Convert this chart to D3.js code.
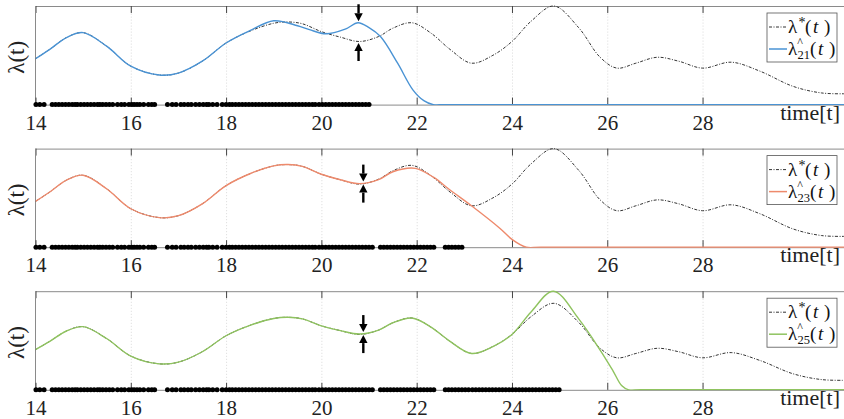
<!DOCTYPE html>
<html><head><meta charset="utf-8">
<script src="https://cdn.jsdelivr.net/npm/d3@7"></script>
<style>body{margin:0;background:#fff} svg{display:block}</style>
</head><body><svg id="c" width="844" height="419"></svg>
<script>
// ---------- data ----------
const xTicks = [14,16,18,20,22,24,26,28];
const xLabel = "time[t]";
const yLabel = "λ(t)";

// true intensity λ*(t)
const tStar   = [14.0,14.3,14.65,15.0,15.5,16.0,16.6,17.0,17.5,18.0,18.5,19.0,19.3,19.6,20.0,20.4,20.8,21.2,21.5,21.9,22.3,22.7,23.15,23.6,24.0,24.4,24.88,25.4,25.85,26.2,26.6,27.05,27.5,28.0,28.6,29.2,29.9,30.5,31.0];
const lamStar = [0.465,0.56,0.68,0.73,0.59,0.39,0.30,0.32,0.44,0.625,0.745,0.825,0.838,0.82,0.74,0.684,0.64,0.69,0.775,0.83,0.725,0.56,0.42,0.50,0.64,0.845,1.0,0.78,0.48,0.37,0.42,0.48,0.44,0.37,0.43,0.34,0.185,0.118,0.11];

// estimate after 21 events
const t21   = [14.0,14.3,14.65,15.0,15.5,16.0,16.6,17.0,17.5,18.0,18.5,19.0,19.5,19.75,20.1,20.5,20.77,21.0,21.24,21.6,21.92,22.15,22.35,22.6,31.0];
const lam21 = [0.465,0.56,0.68,0.73,0.59,0.39,0.30,0.32,0.44,0.625,0.75,0.85,0.80,0.76,0.718,0.765,0.83,0.78,0.69,0.42,0.15,0.04,0.0,0.0,0.0];

// estimate after 23 events
const t23   = [14.0,14.3,14.65,15.0,15.5,16.0,16.6,17.0,17.5,18.0,18.5,19.0,19.3,19.6,20.0,20.4,20.8,21.2,21.5,21.97,22.35,22.7,23.15,23.75,24.0,24.3,24.6,31.0];
const lam23 = [0.465,0.56,0.68,0.73,0.59,0.39,0.30,0.32,0.44,0.625,0.745,0.825,0.838,0.82,0.74,0.684,0.645,0.685,0.765,0.80,0.71,0.58,0.42,0.19,0.08,0.0,0.0,0.0];

// estimate after 25 events
const t25   = [14.0,14.3,14.65,15.0,15.5,16.0,16.6,17.0,17.5,18.0,18.5,19.0,19.3,19.6,20.0,20.4,20.8,21.2,21.5,21.9,22.3,22.7,23.15,23.6,24.0,24.4,24.87,25.4,25.85,26.12,26.3,26.45,26.7,31.0];
const lam25 = [0.465,0.56,0.68,0.73,0.59,0.39,0.30,0.32,0.44,0.625,0.745,0.825,0.838,0.82,0.74,0.684,0.645,0.69,0.775,0.83,0.725,0.56,0.42,0.50,0.64,0.90,1.14,0.82,0.46,0.22,0.05,0.0,0.0,0.0];

// observed event times
const events = [14.01,14.09,14.18,14.35,14.42,14.49,14.56,14.63,14.70,14.77,14.83,14.88,14.95,15.02,15.09,15.16,15.23,15.30,15.35,
  15.41,15.48,15.55,15.62,15.72,15.80,15.87,15.96,16.02,16.07,16.13,16.19,16.27,16.37,16.44,16.50,16.77,16.87,16.95,17.05,
  17.12,17.20,17.27,17.36,17.44,17.52,17.59,17.64,17.72,17.81,17.92,18.00,18.07,18.13,18.20,18.27,18.34,18.41,18.48,18.55,
  18.62,18.69,18.76,18.83,18.90,18.97,19.04,19.11,19.18,19.25,19.32,19.39,19.46,19.53,19.60,19.67,19.74,19.81,19.87,
  19.95,20.02,20.09,20.16,20.23,20.30,20.37,20.44,20.51,20.58,20.65,20.72,20.79,20.86,20.93,21.00,
  21.07,21.24,21.31,21.38,21.45,21.52,21.59,21.66,21.73,21.80,21.87,21.94,22.01,22.08,22.15,22.22,22.29,22.36,
  22.60,22.67,22.74,22.81,22.88,22.95,23.02,23.09,23.17,23.24,23.31,23.38,23.45,23.52,23.59,23.66,23.73,23.80,23.87,23.94,
  24.01,24.08,24.15,24.22,24.29,24.36,24.43,24.50,24.57,24.64,24.71,24.78,24.85,24.92,24.99];

const hatT    = [t21, t23, t25];
const hatLam  = [lam21, lam23, lam25];
const hatSub  = ["21", "23", "25"];
const hatColor= ["#4a93d4", "#ee8a6c", "#8fc35f"];
const evEnd   = [21.0, 22.97, 25.0];
const yMax    = [1.0, 1.0, 1.14];
const arrowT  = [20.78, 20.88, 20.88];
const arrowUp = [0.83, 0.65, 0.65];   // value under the downward arrow tip
const arrowLo = [0.64, 0.65, 0.65];   // value above the upward arrow tip

// ---------- layout ----------
const svg = d3.select("#c");
const panelTops = [6, 148.6, 291.2];
const H = 98.6;
const x = d3.scaleLinear().domain([14, 31]).range([35.5, 845.5]);
const serif = "'Liberation Serif','Times New Roman',serif";

const line = (y) => d3.line().x(d => x(d[0])).y(d => Math.min(y(d[1]), y(0)))
  .curve(d3.curveCatmullRom.alpha(0.5));

panelTops.forEach((top, i) => {
  const bottom = top + H;
  const y = d3.scaleLinear().domain([0, yMax[i]]).range([bottom, top]);
  const g = svg.append("g");

  // grid
  g.append("g").attr("transform", `translate(0,${bottom})`)
    .call(d3.axisBottom(x).tickValues(xTicks.slice(1)).tickSizeInner(-H).tickSizeOuter(0).tickFormat(""))
    .call(a => a.select(".domain").remove())
    .call(a => a.selectAll("line").attr("stroke", "#d9d9d9").attr("stroke-dasharray", "1,2"));

  // top border with inward ticks
  g.append("g").attr("transform", `translate(0,${top})`)
    .call(d3.axisTop(x).tickValues(xTicks).tickSizeInner(-7).tickSizeOuter(0).tickFormat(""))
    .call(a => a.select(".domain").attr("stroke", "#8a8a8a"))
    .call(a => a.selectAll(".tick line").attr("stroke", "#444"));
  // left border
  g.append("line").attr("x1", x(14)).attr("x2", x(14)).attr("y1", top).attr("y2", bottom)
    .attr("stroke", "#8a8a8a");

  // clip for curves
  const cid = "clip" + i;
  svg.append("clipPath").attr("id", cid).append("rect")
    .attr("x", x(14)).attr("y", top - 2).attr("width", 844 - x(14)).attr("height", H + 2.5);

  // bottom axis with labels
  g.append("g").attr("transform", `translate(0,${bottom})`)
    .call(d3.axisBottom(x).tickValues(xTicks).tickSizeInner(-7).tickSizeOuter(0).tickPadding(10))
    .call(a => a.select(".domain").attr("stroke", "#8a8a8a"))
    .call(a => a.selectAll(".tick line").attr("stroke", "#444"))
    .call(a => a.selectAll("text").attr("font-family", serif).attr("font-size", 21).attr("fill", "#222"));

  // x label
  g.append("text").attr("x", 840).attr("y", bottom + 15).attr("text-anchor", "end")
    .attr("font-family", serif).attr("font-size", 22).attr("fill", "#222").text(xLabel);

  // y label
  g.append("text").attr("transform", `translate(24,${top + H/2 + 2}) rotate(-90)`)
    .attr("text-anchor", "middle").attr("font-family", serif).attr("font-size", 23).attr("fill", "#222")
    .text(yLabel);

  // curves: true intensity underneath, estimate on top
  const hatData = hatT[i].map((t, k) => [t, hatLam[i][k]]);
  const starData = tStar.map((t, k) => [t, lamStar[k]]);
  const cg = g.append("g").attr("clip-path", `url(#${cid})`);
  cg.append("path").datum(starData).attr("d", line(y)).attr("fill", "none")
    .attr("stroke", "#333").attr("stroke-width", 1).attr("stroke-dasharray", "3,1.5,1,1.5");
  cg.append("path").datum(hatData).attr("d", line(y)).attr("fill", "none")
    .attr("stroke", hatColor[i]).attr("stroke-width", 1.4);

  // events
  g.selectAll("circle.ev").data(events.filter(t => t <= evEnd[i])).join("circle")
    .attr("cx", d => x(d)).attr("cy", bottom).attr("r", 2.5).attr("fill", "#000");

  // arrows
  const ax = x(arrowT[i]);
  const drawArrow = (tailY, tipY) => {
    const dir = tipY > tailY ? 1 : -1;
    const hl = 8, hw = 4.2;
    g.append("line").attr("x1", ax).attr("x2", ax).attr("y1", tailY).attr("y2", tipY - dir * hl)
      .attr("stroke", "#000").attr("stroke-width", 2.4);
    g.append("path").attr("d", `M${ax - hw},${tipY - dir * hl}L${ax + hw},${tipY - dir * hl}L${ax},${tipY}Z`)
      .attr("fill", "#000");
  };
  const yu = y(arrowUp[i]) - 1.5, yl = y(arrowLo[i]) + 1.5;
  drawArrow(yu - 17, yu);
  drawArrow(yl + 18, yl);

  // legend
  const lx = 767, ly = top + 7, lw = 70, lh = 49;
  const lg = g.append("g");
  lg.append("rect").attr("x", lx).attr("y", ly).attr("width", lw).attr("height", lh)
    .attr("fill", "#fff").attr("stroke", "#555").attr("stroke-width", 0.8);
  const r1 = ly + 14, r2 = ly + 36;
  lg.append("line").attr("x1", 769).attr("x2", 787).attr("y1", r1).attr("y2", r1)
    .attr("stroke", "#333").attr("stroke-width", 1).attr("stroke-dasharray", "3,1.5,1,1.5");
  lg.append("line").attr("x1", 769).attr("x2", 787).attr("y1", r2).attr("y2", r2)
    .attr("stroke", hatColor[i]).attr("stroke-width", 1.5);
  const t1 = lg.append("text").attr("font-family", serif).attr("font-size", 19).attr("fill", "#111")
    .attr("y", r1 + 6);
  t1.append("tspan").attr("x", 788).text("λ");
  t1.append("tspan").attr("x", 798.5).attr("dy", -6).attr("font-size", 14).text("*");
  t1.append("tspan").attr("x", 805).attr("dy", 6).text("(");
  t1.append("tspan").attr("x", 813).attr("font-style", "italic").text("t");
  t1.append("tspan").attr("x", 824).text(")");
  const t2 = lg.append("text").attr("font-family", serif).attr("font-size", 19).attr("fill", "#111")
    .attr("y", r2 + 6);
  t2.append("tspan").attr("x", 788).text("λ");
  t2.append("tspan").attr("x", 797.5).attr("dy", 4).attr("font-size", 12.5).text(hatSub[i]);
  t2.append("tspan").attr("x", 810).attr("dy", -4).text("(");
  t2.append("tspan").attr("x", 818).attr("font-style", "italic").text("t");
  t2.append("tspan").attr("x", 829).text(")");
  lg.append("text").attr("x", 800).attr("y", r2 - 3).attr("text-anchor", "middle")
    .attr("font-family", serif).attr("font-size", 12).attr("fill", "#111").text("^");
});
</script></body></html>
